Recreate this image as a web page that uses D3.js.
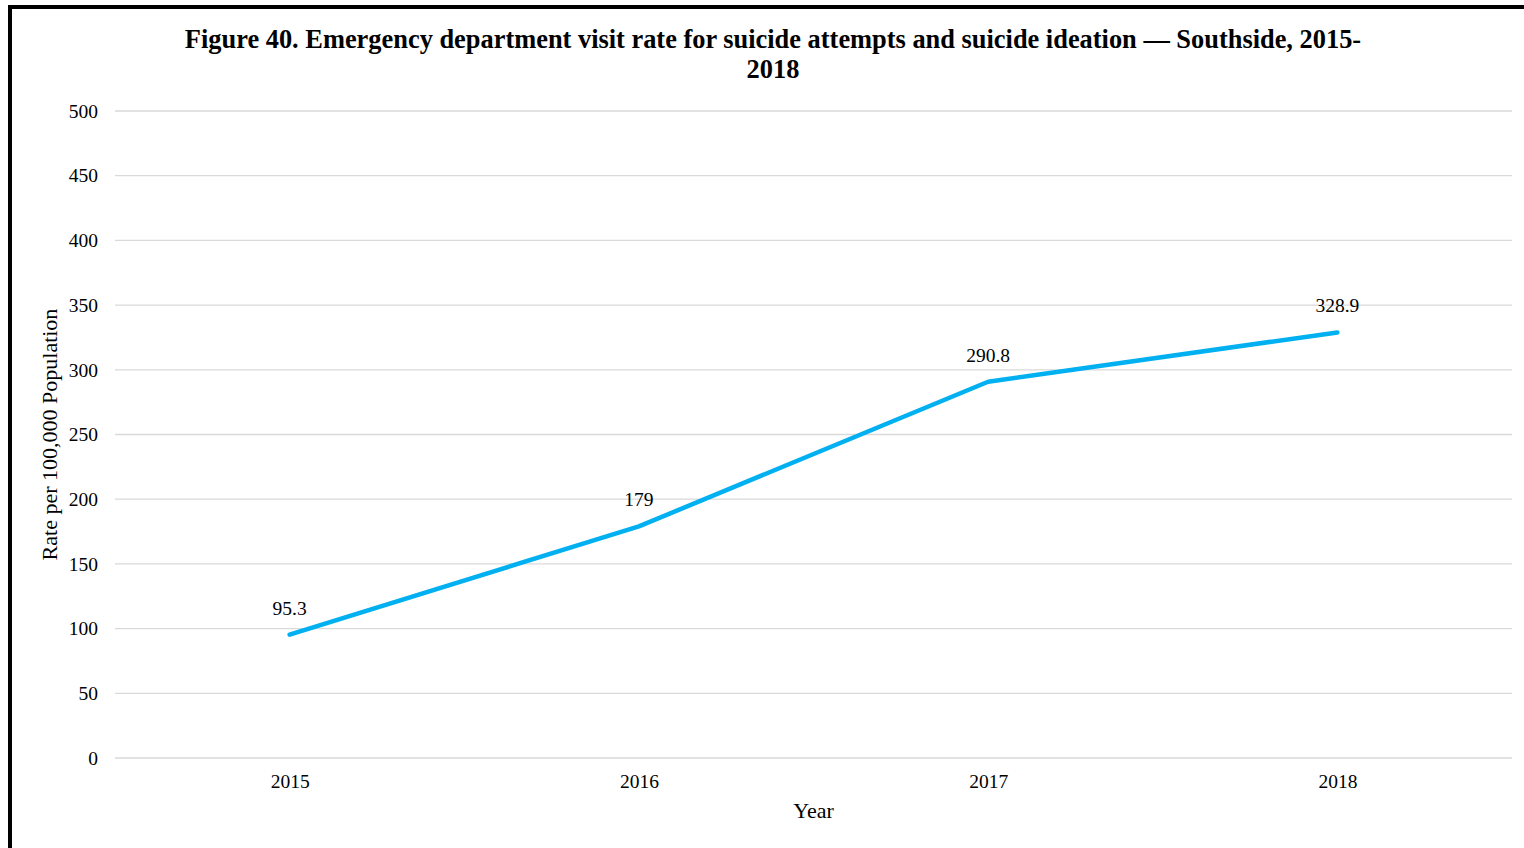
<!DOCTYPE html>
<html><head><meta charset="utf-8">
<script src="https://cdn.jsdelivr.net/npm/d3@7"></script>
<style>
html,body{margin:0;padding:0;background:#fff;}
svg{display:block;font-family:"Liberation Serif","Times New Roman",serif;}
</style></head>
<body>
<svg id="c" width="1524" height="848"></svg>
<script>
const years = ["2015","2016","2017","2018"];
const rates = [95.3, 179, 290.8, 328.9];
const labels = ["95.3","179","290.8","328.9"];
const yTicks = [0,50,100,150,200,250,300,350,400,450,500];
const titleLines = ["Figure 40. Emergency department visit rate for suicide attempts and suicide ideation — Southside, 2015-","2018"];

const svg = d3.select("#c");
const mLeft = 115, mRight = 1512, mTop = 111, mBottom = 758;

// border
svg.append("line").attr("x1",8).attr("x2",1524).attr("y1",7).attr("y2",7).attr("stroke","#000").attr("stroke-width",4);
svg.append("line").attr("x1",10).attr("x2",10).attr("y1",5).attr("y2",848).attr("stroke","#000").attr("stroke-width",4);

const x = d3.scalePoint().domain(years).range([mLeft,mRight]).padding(0.5);
const y = d3.scaleLinear().domain([0,500]).range([mBottom,mTop]);

// gridlines
svg.append("g").selectAll("line").data(yTicks).join("line")
  .attr("x1",mLeft).attr("x2",mRight)
  .attr("y1",d=>y(d)).attr("y2",d=>y(d))
  .attr("stroke","#d9d9d9").attr("stroke-width",1.3);

// y axis labels
const yAxis = d3.axisLeft(y).tickValues(yTicks).tickSize(0).tickPadding(0);
const gy = svg.append("g").attr("transform",`translate(${mLeft-17},0)`).call(yAxis);
gy.select(".domain").remove();
gy.selectAll("text").attr("font-size",19.5).attr("fill","#000").attr("font-family","Liberation Serif");

// x axis labels
const xAxis = d3.axisBottom(x).tickSize(0).tickPadding(0);
const gx = svg.append("g").attr("transform",`translate(0,${mBottom+16})`).call(xAxis);
gx.select(".domain").remove();
gx.selectAll("text").attr("font-size",19.5).attr("fill","#000").attr("font-family","Liberation Serif");

// line
const line = d3.line().x((d,i)=>x(years[i])).y(d=>y(d));
svg.append("path").datum(rates).attr("d",line)
  .attr("fill","none").attr("stroke","#00B0F0").attr("stroke-width",4.5)
  .attr("stroke-linejoin","round").attr("stroke-linecap","round");

// data labels
svg.append("g").selectAll("text").data(rates).join("text")
  .attr("x",(d,i)=>x(years[i])).attr("y",d=>y(d)-20)
  .attr("text-anchor","middle").attr("font-size",19.5).attr("fill","#000")
  .text((d,i)=>labels[i]);

// title
svg.append("g").selectAll("text").data(titleLines).join("text")
  .attr("x",773).attr("y",(d,i)=>48+i*30)
  .attr("text-anchor","middle").attr("font-size",26.4).attr("font-weight","bold").attr("fill","#000")
  .text(d=>d);

// axis titles
svg.append("text").attr("x",(mLeft+mRight)/2).attr("y",818).attr("text-anchor","middle")
  .attr("font-size",22).attr("fill","#000").text("Year");
svg.append("text").attr("transform",`translate(57,${(mTop+mBottom)/2}) rotate(-90)`)
  .attr("text-anchor","middle").attr("font-size",22).attr("fill","#000").text("Rate per 100,000 Population");
</script>
</body></html>
